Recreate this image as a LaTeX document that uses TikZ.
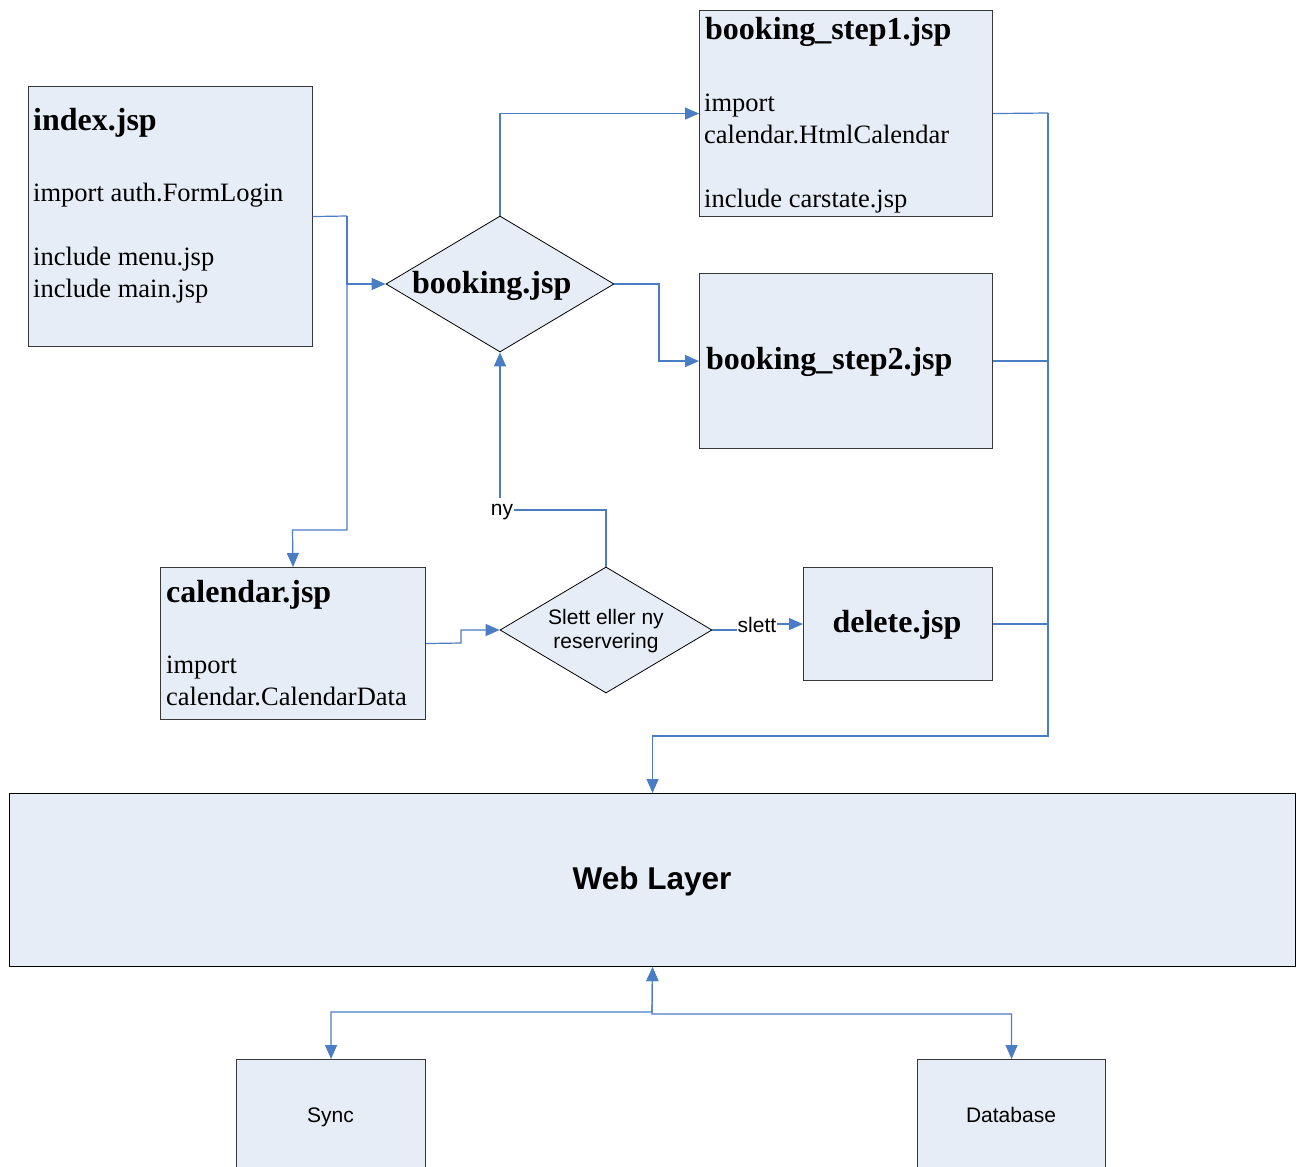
\documentclass[tikz,border=0pt]{standalone}
\usepackage{fontspec}
\setmainfont{Liberation Serif}
\setsansfont{Liberation Sans}
\usetikzlibrary{arrows.meta,shapes.geometric}
\definecolor{boxfill}{RGB}{231,237,247}
\definecolor{linkblue}{RGB}{74,125,195}
\definecolor{edgegray}{RGB}{55,55,55}
\begin{document}
\begin{tikzpicture}[x=1pt,y=-1pt,
  box/.style={draw=edgegray, line width=1.1pt, fill=boxfill, rectangle, inner sep=0pt, anchor=north west},
  choice/.style={draw=black, line width=0.8pt, fill=boxfill, diamond, inner sep=0pt},
  link/.style={draw=linkblue, line width=1.2pt, -{Triangle[length=14pt,width=12pt]}},
  both/.style={draw=linkblue, line width=1.2pt, {Triangle[length=14pt,width=12pt]}-{Triangle[length=14pt,width=12pt]}},
  plain/.style={draw=linkblue, line width=1.2pt},
  title/.style={font=\bfseries\fontsize{32}{37}\selectfont, anchor=base west, inner sep=0pt},
  body/.style={font=\fontsize{26.5}{32}\selectfont, anchor=base west, inner sep=0pt},
  sans/.style={font=\sffamily\fontsize{21}{25}\selectfont, inner sep=0pt, anchor=base},
]
\useasboundingbox (0,0) rectangle (1302,1167);
\clip (0,0) rectangle (1302,1167);

% boxes
\node[box, minimum width=284pt, minimum height=260pt] (index) at (27.5,86) {};
\node[box, minimum width=293pt, minimum height=206pt] (step1) at (699,10) {};
\node[box, minimum width=293pt, minimum height=175pt] (step2) at (699,273) {};
\node[box, minimum width=265pt, minimum height=152pt] (calendar) at (160,567) {};
\node[box, minimum width=189pt, minimum height=113pt] (delete) at (803,567) {};
\node[box, draw=black, minimum width=1286pt, minimum height=173pt] (web) at (9,793) {};
\node[box, minimum width=189pt, minimum height=160pt] (sync) at (236,1059) {};
\node[box, minimum width=188pt, minimum height=160pt] (db) at (917,1059) {};

% decisions
\node[choice, minimum width=228pt, minimum height=136pt] (booking) at (500,284) {};
\node[choice, minimum width=212pt, minimum height=126pt] (slett) at (606,630) {};

% texts
\node[title] (index-t) at (33,130) {index.jsp};
\node[body] (index-l1) at (33,201) {import auth.FormLogin};
\node[body] (index-l2) at (33,265) {include menu.jsp};
\node[body] (index-l3) at (33,297) {include main.jsp};

\node[title] (step1-t) at (705,39) {booking\_step1.jsp};
\node[body] (step1-l1) at (704,111) {import};
\node[body] (step1-l2) at (704,143) {calendar.HtmlCalendar};
\node[body] (step1-l3) at (704,207) {include carstate.jsp};

\node[title] (step2-t) at (706,369) {booking\_step2.jsp};

\node[title] (cal-t) at (166,602) {calendar.jsp};
\node[body] (cal-l1) at (166,673) {import};
\node[body] (cal-l2) at (166,705) {calendar.CalendarData};

\node[title, anchor=base] (delete-t) at (897,632) {delete.jsp};
\node[title] (booking-t) at (412,293) {booking.jsp};

\node[sans] (slett-l1) at (606,624) {Slett eller ny};
\node[sans] (slett-l2) at (606,648) {reservering};

\node[sans, font=\sffamily\bfseries\fontsize{31.5}{37}\selectfont] (web-t) at (652,889) {Web Layer};
\node[sans] (sync-t) at (330.5,1122) {Sync};
\node[sans] (db-t) at (1011,1122) {Database};

% connectors
\draw[plain] (index.east) -- (347,216) coordinate (trunk);
\draw[link] (trunk) |- (booking.west);
\draw[link] (trunk) |- (292.5,530) -- (calendar.north);
\draw[link] (booking.north) |- (step1.west);
\draw[link] (booking.east) -- (659,284) |- (step2.west);
\draw[link] (calendar.east) -- (461,643) |- (slett.west);
\draw[link] (slett.north) |- (500,510) -- (booking.south);
\draw[link] (slett.east) -- (757,630) |- (delete.west);

\draw[plain] (step1.east) -- (1048,113) coordinate (bus);
\draw[plain] (step2.east) -- (bus |- step2.east);
\draw[plain] (delete.east) -- (bus |- delete.east);
\draw[link] (bus) -- (1048,736) -| (web.north);

\draw[both] (sync.north) |- (652,1012) -- (web.south);
\draw[both] (db.north) |- (652,1014) -- (web.south);

% edge labels
\node[sans, fill=white, inner xsep=1pt, inner ysep=6pt] (ny) at (502,515) {ny};
\node[sans, fill=white, inner xsep=1pt, inner ysep=1pt] (slett-e) at (757,632) {slett};
\end{tikzpicture}
\end{document}
